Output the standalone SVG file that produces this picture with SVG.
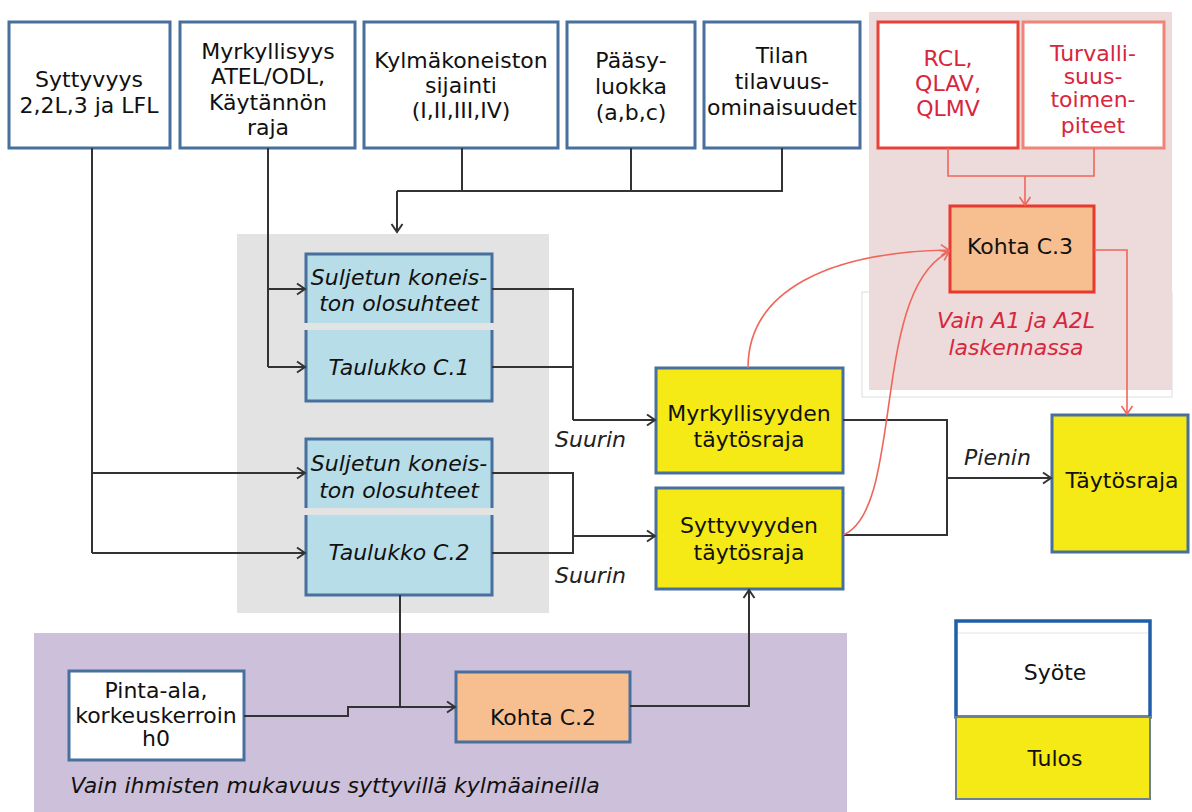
<svg xmlns="http://www.w3.org/2000/svg" width="1192" height="812" viewBox="0 0 1192 812">
<style>
text{font-family:"DejaVu Sans","Liberation Sans",sans-serif;font-size:22px;fill:#111;text-anchor:middle}
.it{font-style:italic}
.red{fill:#d7263d}
.lbl{text-anchor:start;font-style:italic;fill:#222}
.inp{fill:#fff;stroke:#47709e;stroke-width:3}
.res{fill:#f5e916;stroke:#47709e;stroke-width:3}
.blu{fill:#b7dde8}
.bb{fill:none;stroke:#47709e;stroke-width:3}
.ora{fill:#f7bf8f}
.c{fill:none;stroke:#333;stroke-width:2}
.r{fill:none;stroke:#f0665a;stroke-width:1.6}
</style>
<defs>
<marker id="a" markerUnits="userSpaceOnUse" markerWidth="14" markerHeight="14" refX="11" refY="7" orient="auto">
<path d="M3,1.5 L11,7 L3,12.5" fill="none" stroke="#333" stroke-width="2"/>
</marker>
<marker id="ar" markerUnits="userSpaceOnUse" markerWidth="14" markerHeight="14" refX="11" refY="7" orient="auto">
<path d="M3,1.5 L11,7 L3,12.5" fill="none" stroke="#f0665a" stroke-width="1.6"/>
</marker>
</defs>
<rect width="1192" height="812" fill="#fff"/>
<!-- regions -->
<rect x="237" y="234" width="312" height="379" fill="#e3e3e3"/>
<rect x="34" y="633" width="813" height="179" fill="#cdc0da"/>
<rect x="862" y="292" width="310" height="105" fill="#fff" stroke="#ddd" stroke-width="1"/>
<rect x="869" y="12" width="303" height="378" fill="#ecdbda"/>
<text class="it" x="335" y="793" style="font-style:italic">Vain ihmisten mukavuus syttyvillä kylmäaineilla</text>
<text class="red it" x="1016" y="328">Vain A1 ja A2L</text>
<text class="red it" x="1016" y="355">laskennassa</text>

<!-- input nodes -->
<g id="syttyvyys"><rect class="inp" x="9" y="22" width="161" height="126"/><text x="89" y="87">Syttyvyys</text><text x="89" y="113">2,2L,3 ja LFL</text></g>
<g id="myrkyllisyys"><rect class="inp" x="180" y="22" width="175" height="126"/><text x="268" y="59">Myrkyllisyys</text><text x="268" y="84">ATEL/ODL,</text><text x="268" y="110">Käytännön</text><text x="268" y="135">raja</text></g>
<g id="kylmakoneisto"><rect class="inp" x="364" y="22" width="194" height="126"/><text x="461" y="68">Kylmäkoneiston</text><text x="461" y="93">sijainti</text><text x="461" y="118">(I,II,III,IV)</text></g>
<g id="paasyluokka"><rect class="inp" x="567" y="22" width="128" height="126"/><text x="631" y="68">Pääsy-</text><text x="631" y="94">luokka</text><text x="631" y="120">(a,b,c)</text></g>
<g id="tilan"><rect class="inp" x="704" y="22" width="156" height="126"/><text x="782" y="63">Tilan</text><text x="782" y="89">tilavuus-</text><text x="782" y="115">ominaisuudet</text></g>
<g id="rcl"><rect x="878" y="22" width="140" height="126" fill="#fff" stroke="#e8423a" stroke-width="3"/><text class="red" x="948" y="66">RCL,</text><text class="red" x="948" y="91">QLAV,</text><text class="red" x="948" y="116">QLMV</text></g>
<g id="turvallisuus"><rect x="1023" y="22" width="141" height="126" fill="#fff" stroke="#f08478" stroke-width="3"/><text class="red" x="1093" y="61">Turvalli-</text><text class="red" x="1093" y="84">suus-</text><text class="red" x="1093" y="107">toimen-</text><text class="red" x="1093" y="133">piteet</text></g>
<g id="kohta-c3"><rect x="950" y="206" width="144" height="86" fill="#f7bf8f" stroke="#e8392f" stroke-width="3"/><text x="1020" y="254">Kohta C.3</text></g>

<!-- blue nodes -->
<g id="suljetun1"><rect class="blu" x="306" y="254" width="186" height="69"/><path class="bb" d="M306,323 V254 H492 V323"/><text class="it" x="399" y="285">Suljetun koneis-</text><text class="it" x="399" y="311">ton olosuhteet</text></g>
<g id="taulukko-c1"><rect class="blu" x="306" y="330" width="186" height="71"/><path class="bb" d="M306,330 V401 H492 V330"/><text class="it" x="399" y="375">Taulukko C.1</text></g>
<g id="suljetun2"><rect class="blu" x="306" y="439" width="186" height="69"/><path class="bb" d="M306,508 V439 H492 V508"/><text class="it" x="399" y="471">Suljetun koneis-</text><text class="it" x="399" y="498">ton olosuhteet</text></g>
<g id="taulukko-c2"><rect class="blu" x="306" y="515" width="186" height="80"/><path class="bb" d="M306,515 V595 H492 V515"/><text class="it" x="399" y="560">Taulukko C.2</text></g>

<!-- results -->
<g id="myrkyllisyyden-taytosraja"><rect class="res" x="656" y="368" width="187" height="105"/><text x="749" y="421">Myrkyllisyyden</text><text x="749" y="447">täytösraja</text></g>
<g id="syttyvyyden-taytosraja"><rect class="res" x="656" y="488" width="187" height="101"/><text x="749" y="533">Syttyvyyden</text><text x="749" y="560">täytösraja</text></g>
<g id="taytosraja"><rect class="res" x="1052" y="415" width="136" height="137"/><text x="1122" y="488">Täytösraja</text></g>

<!-- bottom -->
<g id="pinta-ala"><rect class="inp" x="69" y="671" width="175" height="89"/><text x="156" y="698">Pinta-ala,</text><text x="156" y="723">korkeuskerroin</text><text x="156" y="746">h0</text></g>
<g id="kohta-c2"><rect x="456" y="672" width="174" height="70" fill="#f7bf8f" stroke="#47709e" stroke-width="3"/><text x="543" y="725">Kohta C.2</text></g>

<!-- legend -->
<g id="legend-syote"><rect x="956" y="621" width="194" height="96" fill="#fff" stroke="#1f5fa8" stroke-width="3.5"/><line x1="958" y1="633" x2="1148" y2="633" stroke="#e4e4e4" stroke-width="1"/><text x="1055" y="680">Syöte</text></g>
<g id="legend-tulos"><rect x="956" y="717" width="194" height="82" fill="#f5e916" stroke="#6b7f95" stroke-width="2"/><text x="1055" y="766">Tulos</text></g>

<!-- connectors -->
<g id="connectors">
<path class="c" d="M92,148 V553"/>
<path class="c" d="M92,473 H305" marker-end="url(#a)"/>
<path class="c" d="M92,553 H305" marker-end="url(#a)"/>
<path class="c" d="M268,148 V367"/>
<path class="c" d="M268,289 H305" marker-end="url(#a)"/>
<path class="c" d="M268,367 H305" marker-end="url(#a)"/>
<path class="c" d="M462,148 V191 M631,148 V191 M782,148 V191 H397"/>
<path class="c" d="M397,191 V232" marker-end="url(#a)"/>
<path class="c" d="M492,289 H573 V420 M492,367 H573"/>
<path class="c" d="M573,420 H655" marker-end="url(#a)"/>
<path class="c" d="M492,473 H573 V553 H492"/>
<path class="c" d="M573,536 H655" marker-end="url(#a)"/>
<path class="c" d="M843,420 H947 V535 H843"/>
<path class="c" d="M947,478 H1051" marker-end="url(#a)"/>
<path class="c" d="M400,595 V707"/>
<path class="c" d="M244,716 H348 V707 H455" marker-end="url(#a)"/>
<path class="c" d="M630,706 H749 V590" marker-end="url(#a)"/>
<path class="r" d="M948,148 V176 H1094 V148"/>
<path class="r" d="M1025,176 V205" marker-end="url(#ar)"/>
<path class="r" d="M748,368 C748,290 830,252 949,250" marker-end="url(#ar)"/>
<path class="r" d="M843,535 C905,510 870,290 949,252" marker-end="url(#ar)"/>
<path class="r" d="M1094,250 H1127 V414" marker-end="url(#ar)"/>
<text class="lbl" x="555" y="447">Suurin</text>
<text class="lbl" x="555" y="583">Suurin</text>
<text class="lbl" x="964" y="465">Pienin</text>
</g>
</svg>
